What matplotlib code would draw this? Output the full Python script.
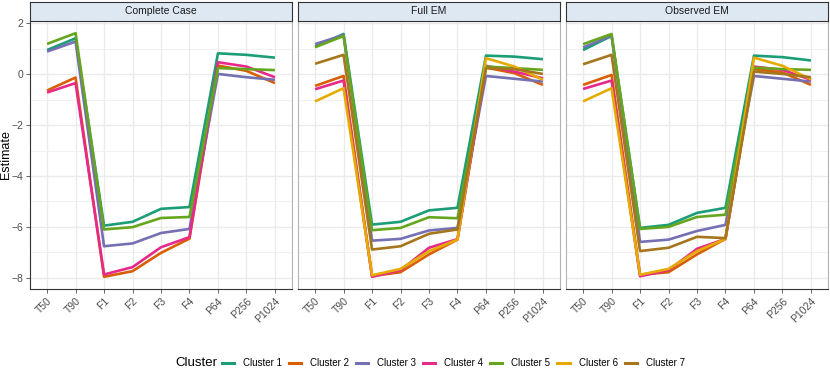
import numpy as np
import matplotlib
matplotlib.use("Agg")
import matplotlib.pyplot as plt
from matplotlib.lines import Line2D

plt.rcParams['font.family'] = ['Liberation Sans', 'DejaVu Sans']

# categorias do eixo x
params = ["T50", "T90", "F1", "F2", "F3", "F4", "P64", "P256", "P1024"]
paineis = ["Complete Case", "Full EM", "Observed EM"]
clusters = ["Cluster 1", "Cluster 2", "Cluster 3", "Cluster 4",
            "Cluster 5", "Cluster 6", "Cluster 7"]
cores = ["#1B9E77", "#D95F02", "#7570B3", "#E7298A", "#66A61E", "#E6AB02", "#A6761D"]

# Complete Case (so clusters 1-5)
cc_1 = [0.95, 1.41, -5.95, -5.80, -5.29, -5.22, 0.82, 0.76, 0.65]
cc_2 = [-0.64, -0.13, -7.96, -7.74, -7.02, -6.46, 0.34, 0.13, -0.35]
cc_3 = [0.89, 1.28, -6.76, -6.65, -6.24, -6.08, 0.01, -0.12, -0.22]
cc_4 = [-0.72, -0.35, -7.87, -7.58, -6.80, -6.40, 0.47, 0.30, -0.12]
cc_5 = [1.19, 1.61, -6.10, -6.01, -5.65, -5.61, 0.24, 0.20, 0.16]

# Full EM
fe_1 = [1.08, 1.58, -5.91, -5.80, -5.35, -5.25, 0.73, 0.69, 0.59]
fe_2 = [-0.46, -0.07, -7.93, -7.78, -7.08, -6.50, 0.26, 0.04, -0.42]
fe_3 = [1.18, 1.54, -6.54, -6.47, -6.14, -6.04, -0.07, -0.18, -0.29]
fe_4 = [-0.59, -0.25, -7.96, -7.70, -6.82, -6.48, 0.33, 0.10, -0.16]
fe_5 = [1.06, 1.50, -6.13, -6.04, -5.62, -5.66, 0.30, 0.24, 0.17]
fe_6 = [-1.07, -0.55, -7.90, -7.65, -6.95, -6.50, 0.63, 0.30, -0.22]
fe_7 = [0.41, 0.76, -6.89, -6.76, -6.27, -6.10, 0.24, 0.20, 0.01]

# Observed EM
oe_1 = [0.95, 1.50, -6.04, -5.92, -5.45, -5.25, 0.73, 0.67, 0.54]
oe_2 = [-0.42, -0.03, -7.88, -7.78, -7.08, -6.47, 0.20, 0.07, -0.42]
oe_3 = [1.05, 1.52, -6.59, -6.50, -6.16, -5.92, -0.07, -0.18, -0.29]
oe_4 = [-0.58, -0.25, -7.94, -7.70, -6.86, -6.47, 0.30, 0.17, -0.22]
oe_5 = [1.18, 1.58, -6.08, -6.00, -5.61, -5.52, 0.26, 0.20, 0.17]
oe_6 = [-1.07, -0.55, -7.88, -7.65, -6.95, -6.47, 0.65, 0.33, -0.20]
oe_7 = [0.39, 0.76, -6.95, -6.82, -6.39, -6.44, 0.10, 0.01, -0.12]

dados = [
    [cc_1, cc_2, cc_3, cc_4, cc_5, None, None],
    [fe_1, fe_2, fe_3, fe_4, fe_5, fe_6, fe_7],
    [oe_1, oe_2, oe_3, oe_4, oe_5, oe_6, oe_7],
]

W, H = 830, 370
fig = plt.figure(figsize=(W / 100, H / 100), dpi=100)

lefts = [30, 298, 566]
larg = 262
top, bot = 21, 289
strip_h = 19
grid_c = "#EBEBEB"

x = np.arange(len(params))
for p, nome in enumerate(paineis):
    ax = fig.add_axes([lefts[p] / W, 1 - bot / H, larg / W, (bot - top) / H])
    for c in range(len(clusters)):
        y = dados[p][c]
        if y is None:
            continue
        ax.plot(x, y, color=cores[c], lw=1.9, solid_capstyle="butt", zorder=3)
    ax.set_xlim(-0.6, 8.6)
    ax.set_ylim(-8.44, 2.09)
    ax.set_yticks([-8, -6, -4, -2, 0, 2])
    ax.set_yticks([-7, -5, -3, -1, 1], minor=True)
    ax.set_xticks(x)
    ax.set_xticklabels(params, rotation=45, ha="right", rotation_mode="anchor")
    ax.grid(True, which="major", color=grid_c, lw=1.0, zorder=0)
    ax.grid(True, which="minor", axis="y", color=grid_c, lw=0.5, zorder=0)
    ax.tick_params(which="minor", length=0)
    ax.tick_params(axis="both", labelsize=7.5, colors="#4D4D4D", length=3, width=0.6, pad=2)
    for s in ["top", "right"]:
        ax.spines[s].set_color("#B3B3B3")
        ax.spines[s].set_linewidth(0.8)
    for s in ["left", "bottom"]:
        ax.spines[s].set_color("#333333")
        ax.spines[s].set_linewidth(0.8)
    if p == 0:
        ax.set_ylabel("Estimate", fontsize=9)
        ax.yaxis.set_label_coords(-0.068, 0.5)
        ax.set_yticklabels(["\u22128", "\u22126", "\u22124", "\u22122", "0", "2"])
    else:
        ax.tick_params(axis="y", left=False, labelleft=False)
        ax.spines["left"].set_color("#B3B3B3")

    # faixa do titulo
    sax = fig.add_axes([lefts[p] / W, 1 - top / H, larg / W, strip_h / H])
    sax.set_facecolor("#DDE8F3")
    sax.set_xticks([])
    sax.set_yticks([])
    for s in sax.spines.values():
        s.set_color("#333333")
        s.set_linewidth(0.8)
    sax.text(0.5, 0.5, nome, ha="center", va="center", fontsize=7.5, color="#1A1A1A")

# legenda
handles = [Line2D([0], [0], color=cores[c], lw=2.2) for c in range(len(clusters))]
leg = fig.legend(handles, clusters, loc="center left", bbox_to_anchor=(222 / W, 1 - 363 / H),
                 ncol=7, frameon=False, fontsize=7, handlelength=1.24,
                 handletextpad=0.93, columnspacing=0.72, borderpad=0, borderaxespad=0)
fig.text(217 / W, 1 - 363 / H, "Cluster", ha="right", va="center", fontsize=9.5)

fig.savefig("out.png", dpi=100)
